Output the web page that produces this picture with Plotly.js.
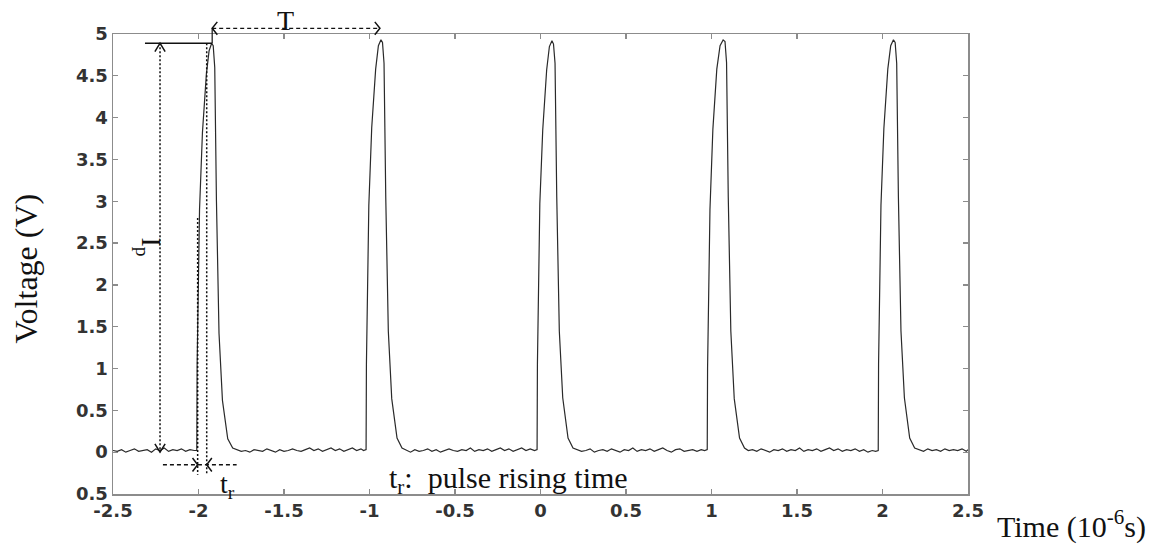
<!DOCTYPE html>
<html><head><meta charset="utf-8">
<script src="https://cdn.plot.ly/plotly-3.0.1.min.js"></script>
<style>html,body{margin:0;padding:0;background:#fff}#chart{width:1157px;height:545px}</style>
</head><body><div id="chart"></div>
<script>
// ---- data (time in 10^-6 s, voltage in V) ----
const leadTime = [-2.5,-2.475,-2.45,-2.425,-2.4,-2.375,-2.35,-2.325,-2.3,-2.275,-2.25,-2.225,-2.2,-2.175,-2.15,-2.125,-2.1,-2.075,-2.05,-2.025,-2.01];
const leadVolt = [0.02,0.01,0.03,0.00,0.02,0.04,0.01,0.02,0.03,0.00,0.04,0.02,0.05,0.01,0.03,0.02,0.04,0.01,0.03,0.02,0.02];

const pulse1Time = [-2.008,-1.994,-1.977,-1.954,-1.938,-1.923,-1.914,-1.905,-1.895,-1.88,-1.86,-1.829,-1.8];
const pulse1Volt = [1.05,2.9,3.82,4.52,4.8,4.89,4.86,4.6,3.0,1.42,0.62,0.16,0.05];

const gap1Time = [-1.775,-1.75,-1.725,-1.7,-1.675,-1.65,-1.625,-1.6,-1.575,-1.55,-1.525,-1.5,-1.475,-1.45,-1.425,-1.4,-1.375,-1.35,-1.325,-1.3,-1.275,-1.25,-1.225,-1.2,-1.175,-1.15,-1.125,-1.1,-1.075,-1.05,-1.035,-1.02];
const gap1Volt = [0.03,0.01,0.02,0.00,0.03,0.02,0.01,0.04,0.02,0.00,0.03,0.01,0.02,0.04,0.02,0.01,0.03,0.05,0.02,0.04,0.01,0.03,0.05,0.02,0.04,0.01,0.03,0.05,0.02,0.04,0.02,0.03];

const pulse2Time = [-1.018,-1.004,-0.987,-0.964,-0.948,-0.933,-0.924,-0.915,-0.905,-0.89,-0.87,-0.839,-0.81];
const pulse2Volt = [1.05,2.95,3.88,4.58,4.86,4.93,4.9,4.65,3.05,1.45,0.64,0.17,0.05];

const gap2Time = [-0.785,-0.76,-0.735,-0.71,-0.685,-0.66,-0.635,-0.61,-0.585,-0.56,-0.535,-0.51,-0.485,-0.46,-0.435,-0.41,-0.385,-0.36,-0.335,-0.31,-0.285,-0.26,-0.235,-0.21,-0.185,-0.16,-0.135,-0.11,-0.085,-0.06,-0.035,-0.02];
const gap2Volt = [0.02,0.00,0.03,0.01,0.02,0.04,0.01,0.03,0.00,0.02,0.04,0.02,0.01,0.03,0.02,0.05,0.01,0.03,0.02,0.04,0.01,0.03,0.05,0.02,0.04,0.01,0.03,0.05,0.02,0.04,0.02,0.03];

const pulse3Time = [-0.018,-0.004,0.013,0.036,0.052,0.067,0.076,0.085,0.095,0.11,0.13,0.161,0.19];
const pulse3Volt = [1.05,2.97,3.85,4.57,4.85,4.92,4.88,4.65,3.05,1.45,0.65,0.17,0.05];

const gap3Time = [0.215,0.24,0.265,0.29,0.315,0.34,0.365,0.39,0.415,0.44,0.465,0.49,0.515,0.54,0.565,0.59,0.615,0.64,0.665,0.69,0.715,0.74,0.765,0.79,0.815,0.84,0.865,0.89,0.915,0.94,0.96,0.975];
const gap3Volt = [0.03,0.01,0.02,0.04,0.00,0.02,0.03,0.01,0.04,0.02,0.00,0.03,0.02,0.05,0.01,0.03,0.02,0.04,0.01,0.03,0.05,0.02,0.00,0.03,0.04,0.01,0.02,0.03,0.01,0.03,0.02,0.03];

const pulse4Time = [0.977,0.991,1.008,1.031,1.05,1.068,1.079,1.088,1.098,1.113,1.133,1.164,1.193];
const pulse4Volt = [1.0,2.9,3.86,4.58,4.86,4.93,4.91,4.66,3.05,1.45,0.64,0.17,0.05];

const gap4Time = [1.215,1.24,1.265,1.29,1.315,1.34,1.365,1.39,1.415,1.44,1.465,1.49,1.515,1.54,1.565,1.59,1.615,1.64,1.665,1.69,1.715,1.74,1.765,1.79,1.815,1.84,1.865,1.89,1.915,1.94,1.96,1.975];
const gap4Volt = [0.02,0.03,0.01,0.04,0.02,0.00,0.03,0.02,0.04,0.01,0.03,0.02,0.05,0.01,0.03,0.02,0.04,0.01,0.03,0.05,0.02,0.04,0.01,0.03,0.02,0.04,0.01,0.03,0.00,0.02,0.01,0.02];

const pulse5Time = [1.977,1.991,2.008,2.031,2.048,2.064,2.074,2.083,2.093,2.108,2.128,2.159,2.188];
const pulse5Volt = [1.05,2.95,3.87,4.58,4.86,4.93,4.9,4.65,3.05,1.45,0.65,0.17,0.05];

const tailTime = [2.215,2.24,2.265,2.29,2.315,2.34,2.365,2.39,2.415,2.44,2.465,2.49,2.5];
const tailVolt = [0.03,0.01,0.04,0.02,0.03,0.01,0.04,0.02,0.03,0.02,0.04,0.01,0.03];

const xTickVals = [-2.5,-2,-1.5,-1,-0.5,0,0.5,1,1.5,2,2.5];
const xTickText = ["-2.5","-2","-1.5","-1","-0.5","0","0.5","1","1.5","2","2.5"];
const yTickVals = [-0.5,0,0.5,1,1.5,2,2.5,3,3.5,4,4.5,5];
const yTickText = ["0.5","0","0.5","1","1.5","2","2.5","3","3.5","4","4.5","5"];

// annotation reference values
const peakLevel = 4.89;
const ipLineTime = -2.225;
const riseStart = -2.005, riseEnd = -1.952;
const periodStart = -1.92, periodEnd = -0.939;

// ---- build ----
const timeAll = [].concat(leadTime,pulse1Time,gap1Time,pulse2Time,gap2Time,pulse3Time,gap3Time,pulse4Time,gap4Time,pulse5Time,tailTime);
const voltAll = [].concat(leadVolt,pulse1Volt,gap1Volt,pulse2Volt,gap2Volt,pulse3Volt,gap3Volt,pulse4Volt,gap4Volt,pulse5Volt,tailVolt);

const trace = {x: timeAll, y: voltAll, type: 'scatter', mode: 'lines',
  line: {color: '#2a2a2a', width: 1.2}, hoverinfo: 'skip', showlegend: false};

const serif = 'Liberation Serif, Times New Roman, serif';
const blk = '#111';
const dotted = {color: blk, width: 1.5, dash: '2px,2px'};
const dashed = {color: blk, width: 1.3, dash: '4px,3px'};
const solid = {color: blk, width: 1.5};
const pT = 1.0124; // paper y of T arrow

const shapes = [
  {type:'line', xref:'x', yref:'y', x0:-2.313, x1:-1.92, y0:peakLevel, y1:peakLevel, line: solid},
  {type:'line', xref:'x', yref:'y', x0:ipLineTime, x1:ipLineTime, y0:peakLevel, y1:0, line: dotted},
  {type:'path', xref:'x', yref:'y', path:`M ${ipLineTime-0.03},${peakLevel-0.1} L ${ipLineTime},${peakLevel} L ${ipLineTime+0.03},${peakLevel-0.1}`, line: solid},
  {type:'path', xref:'x', yref:'y', path:`M ${ipLineTime-0.03},0.1 L ${ipLineTime},0 L ${ipLineTime+0.03},0.1`, line: solid},
  {type:'line', xref:'x', yref:'y', x0:-2.208, x1:-1.777, y0:-0.15, y1:-0.15, line: dashed},
  {type:'line', xref:'x', yref:'y', x0:riseStart, x1:riseStart, y0:2.8, y1:-0.27, line: dotted},
  {type:'line', xref:'x', yref:'y', x0:riseEnd, x1:riseEnd, y0:peakLevel, y1:-0.27, line: dotted},
  {type:'path', xref:'x', yref:'y', path:`M ${riseStart-0.03},-0.07 L ${riseStart},-0.15 L ${riseStart-0.03},-0.23`, line: solid},
  {type:'path', xref:'x', yref:'y', path:`M ${riseEnd+0.03},-0.07 L ${riseEnd},-0.15 L ${riseEnd+0.03},-0.23`, line: solid},
  {type:'line', xref:'x', yref:'paper', x0:periodStart, x1:periodEnd, y0:pT, y1:pT, line: dashed},
  {type:'path', xref:'x', yref:'paper', path:`M ${periodStart+0.03},${pT+0.014} L ${periodStart},${pT} L ${periodStart+0.03},${pT-0.014}`, line: solid},
  {type:'path', xref:'x', yref:'paper', path:`M ${periodEnd-0.03},${pT+0.014} L ${periodEnd},${pT} L ${periodEnd-0.03},${pT-0.014}`, line: solid},
  {type:'line', xref:'x', yref:'paper', x0:periodStart, x1:periodStart, y0:0.98, y1:pT, line: {color: blk, width: 1.2}}
];

const annotations = [
  {text:'T', xref:'x', yref:'paper', x:-1.494, y:1.03, showarrow:false, font:{family:serif, size:28, color:blk}, xanchor:'center', yanchor:'middle'},
  {text:'I<sub>p</sub>', xref:'x', yref:'y', x:-2.285, y:2.45, textangle:90, showarrow:false, xanchor:'center', yanchor:'middle', font:{family:serif, size:28, color:blk}},
  {text:'t<sub>r</sub>', xref:'x', yref:'y', x:-1.833, y:-0.4, showarrow:false, xanchor:'center', yanchor:'middle', font:{family:serif, size:28, color:blk}},
  {text:'t<sub>r</sub>:  pulse rising time', xref:'x', yref:'y', x:-0.895, xanchor:'left', y:-0.33, yanchor:'middle', showarrow:false, font:{family:serif, size:30, color:blk}},
  {text:'Voltage (V)', xref:'paper', yref:'paper', x:-0.102, y:0.49, xanchor:'center', yanchor:'middle', textangle:-90, showarrow:false, font:{family:serif, size:32, color:blk}},
  {text:'Time (10<sup>-6</sup>s)', xref:'paper', yref:'paper', x:1.032, xanchor:'left', y:-0.067, yanchor:'middle', showarrow:false, font:{family:serif, size:30, color:blk}}
];

const axisCommon = {showgrid:false, zeroline:false, showline:true, linecolor:'#8c8c8c', linewidth:1.5,
  mirror:'ticks', ticks:'inside', ticklen:5, tickcolor:'#8c8c8c', tickwidth:1.2,
  tickfont:{family:'DejaVu Sans', size:18, color:'#333', weight:'bold'}, fixedrange:true};

const layout = {
  width:1157, height:545,
  margin:{l:113, r:189, t:34, b:51, pad:0},
  paper_bgcolor:'#fff', plot_bgcolor:'#fff',
  xaxis: Object.assign({}, axisCommon, {range:[-2.5,2.5], tickmode:'array', tickvals:xTickVals, ticktext:xTickText}),
  yaxis: Object.assign({}, axisCommon, {range:[-0.5,5], tickmode:'array', tickvals:yTickVals, ticktext:yTickText}),
  shapes: shapes,
  annotations: annotations
};

Plotly.newPlot('chart', [trace], layout, {staticPlot:true, displayModeBar:false});
</script>
</body></html>
